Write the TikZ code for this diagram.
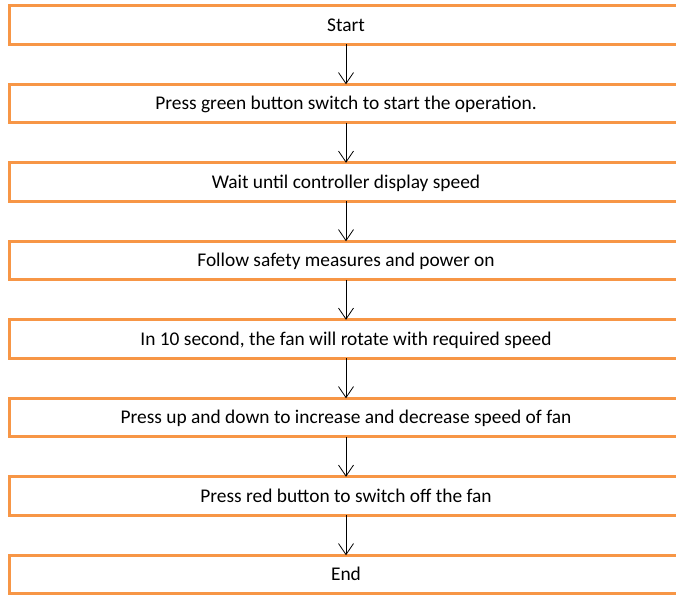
\documentclass[tikz,border=0pt]{standalone}
\usepackage{fontspec}
\setmainfont{Carlito}
\usetikzlibrary{positioning,arrows.meta}
\definecolor{boxorange}{HTML}{F79646}
\begin{document}
\begin{tikzpicture}[x=1pt, y=1pt,
    stepbox/.style={draw=boxorange, line width=3pt, minimum width=674pt,
        minimum height=38.5pt, inner sep=0pt, outer sep=0pt,
        text height=12pt, text depth=0pt, font=\fontsize{19.4}{23}\selectfont},
    flow/.style={-{Straight Barb[length=11pt, width=15pt]}, line width=0.8pt},
    node distance=40pt]
    \useasboundingbox (0, 0) rectangle (676, -594);
    \clip (0, 0) rectangle (676, -594);
    \node[stepbox] (start) at (346, -25) {Start};
    \node[stepbox, below=of start] (green) {Press green button switch to start the operation.};
    \node[stepbox, below=of green] (wait) {Wait until controller display speed};
    \node[stepbox, below=of wait] (safety) {Follow safety measures and power on};
    \node[stepbox, below=of safety] (rotate) {In 10 second, the fan will rotate with required speed};
    \node[stepbox, below=of rotate] (updown) {Press up and down to increase and decrease speed of fan};
    \node[stepbox, below=of updown] (red) {Press red button to switch off the fan};
    \node[stepbox, below=of red] (end) {End};
    \draw[flow] (start) -- (green);
    \draw[flow] (green) -- (wait);
    \draw[flow] (wait) -- (safety);
    \draw[flow] (safety) -- (rotate);
    \draw[flow] (rotate) -- (updown);
    \draw[flow] (updown) -- (red);
    \draw[flow] (red) -- (end);
\end{tikzpicture}
\end{document}
